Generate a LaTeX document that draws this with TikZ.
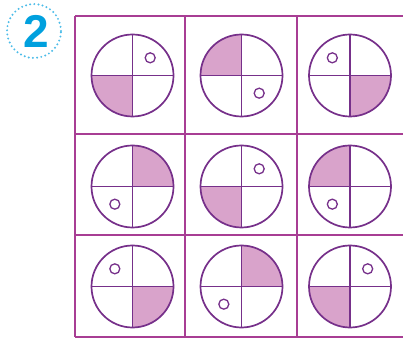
\documentclass[tikz,border=0pt]{standalone}
\usepackage{fontspec}
\usetikzlibrary{calc}
\newfontfamily\numfont{Liberation Sans}
\definecolor{gridpink}{RGB}{168,62,148}
\definecolor{ringpurple}{RGB}{118,48,138}
\definecolor{quadfill}{RGB}{217,163,203}
\definecolor{labelblue}{RGB}{0,160,222}
\tikzset{
  gridline/.style={draw=gridpink, line width=1.8pt},
  quadring/.style={circle, draw=ringpurple, line width=1.7pt, minimum size=82pt, inner sep=0pt},
  crossline/.style={draw=ringpurple, line width=1.7pt},
  dotring/.style={circle, draw=ringpurple, line width=1.3pt, minimum size=10pt, inner sep=0pt},
}
\begin{document}
\begin{tikzpicture}[x=1pt,y=1pt]
\useasboundingbox (0,0) rectangle (403,342);
% number badge
\node[text=labelblue, font=\numfont\bfseries\fontsize{46}{46}\selectfont] (badge) at (36,311) {2};
\draw[labelblue!70, line width=2.2pt, line cap=round, dash pattern=on 0pt off 4.2pt] (34,311) circle[radius=27];
% grid
\draw[gridline] (75,326) -- (403,326);
\draw[gridline] (75,208) -- (403,208);
\draw[gridline] (75,107) -- (403,107);
\draw[gridline] (75,5) -- (403,5);
\draw[gridline] (75,326) -- (75,5);
\draw[gridline] (185,326) -- (185,5);
\draw[gridline] (297,326) -- (297,5);
% circles: row/col/x/y/shaded quadrant start angle/dot angle
\foreach \r/\c/\x/\y/\s/\d in {1/1/132.5/266.5/180/45, 1/2/241.5/266.5/90/315, 1/3/350/266.5/270/135,
                            2/1/132.5/155.5/0/225, 2/2/241.5/155.5/180/45, 2/3/350/155.5/90/225,
                            3/1/132.5/55.5/270/135, 3/2/241.5/55.5/0/225, 3/3/350/55.5/180/45}{
  \fill[quadfill] (\x,\y) -- ++(\s:41) arc[start angle=\s, end angle=\s+90, radius=41] -- cycle;
  \node[quadring] (q\r\c) at (\x,\y) {};
  \draw[crossline] (q\r\c.north) -- (q\r\c.south);
  \draw[crossline] (q\r\c.west) -- (q\r\c.east);
  \node[dotring] (d\r\c) at ($(q\r\c.center)+(\d:25)$) {};
}
\end{tikzpicture}
\end{document}
